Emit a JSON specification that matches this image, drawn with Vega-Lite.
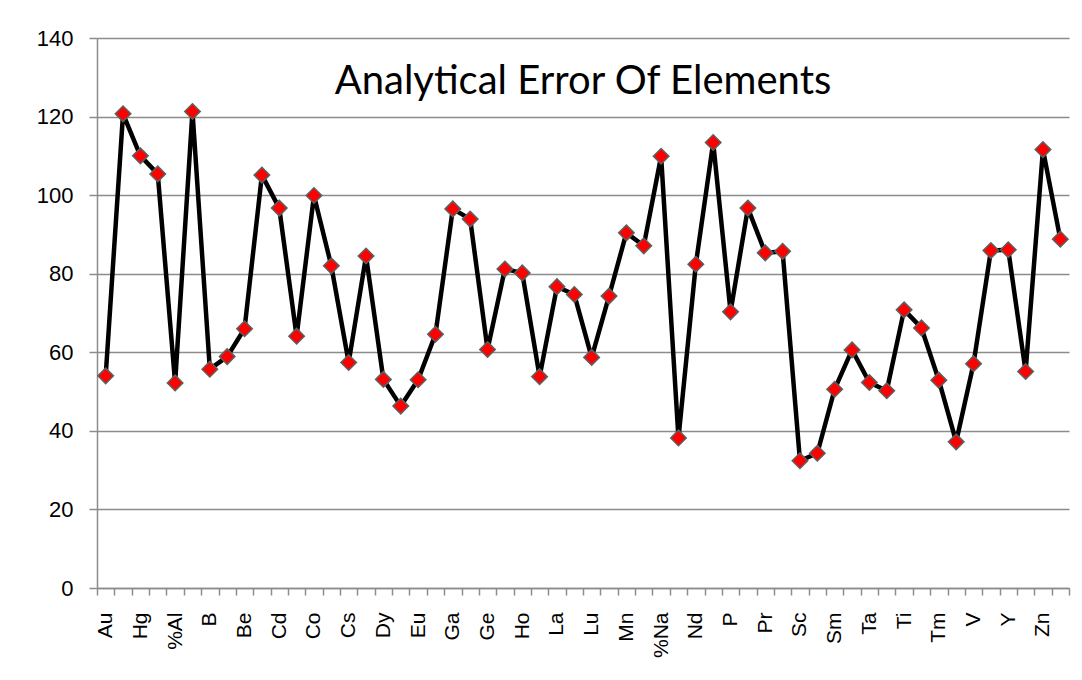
{
  "$schema": "https://vega.github.io/schema/vega-lite/v6.json",
  "autosize": {"type": "none"},
  "padding": {"left": 97, "top": 38, "right": 13, "bottom": 92},
  "width": 972,
  "height": 550,
  "background": "white",
  "config": {"view": {"stroke": null}},
  "title": {
    "text": "Analytical Error Of Elements",
    "font": "Lato",
    "fontSize": 40,
    "fontWeight": "normal",
    "color": "#000000",
    "anchor": "middle",
    "baseline": "alphabetic",
    "offset": -59,
    "dy": 48
  },
  "data": {
    "values": [
      {"element": "Au", "error": 54.0},
      {"element": "Ag", "error": 120.7},
      {"element": "Hg", "error": 110.0},
      {"element": "Pd", "error": 105.4},
      {"element": "%Al", "error": 52.2},
      {"element": "As", "error": 121.3},
      {"element": "B", "error": 55.7},
      {"element": "Ba", "error": 58.9},
      {"element": "Be", "error": 66.0},
      {"element": "Bi", "error": 105.1},
      {"element": "Cd", "error": 96.7},
      {"element": "Ce", "error": 64.1},
      {"element": "Co", "error": 99.9},
      {"element": "Cr", "error": 82.0},
      {"element": "Cs", "error": 57.4},
      {"element": "Cu", "error": 84.5},
      {"element": "Dy", "error": 53.1},
      {"element": "Er", "error": 46.3},
      {"element": "Eu", "error": 53.0},
      {"element": "%Fe", "error": 64.6},
      {"element": "Ga", "error": 96.5},
      {"element": "Gd", "error": 93.9},
      {"element": "Ge", "error": 60.7},
      {"element": "Hf", "error": 81.2},
      {"element": "Ho", "error": 80.2},
      {"element": "In", "error": 53.8},
      {"element": "La", "error": 76.7},
      {"element": "Li", "error": 74.7},
      {"element": "Lu", "error": 58.7},
      {"element": "%Mg", "error": 74.3},
      {"element": "Mn", "error": 90.4},
      {"element": "Mo", "error": 87.1},
      {"element": "%Na", "error": 109.9},
      {"element": "Nb", "error": 38.2},
      {"element": "Nd", "error": 82.4},
      {"element": "Ni", "error": 113.4},
      {"element": "P", "error": 70.3},
      {"element": "Pb", "error": 96.7},
      {"element": "Pr", "error": 85.3},
      {"element": "Rb", "error": 85.7},
      {"element": "Sc", "error": 32.4},
      {"element": "Se", "error": 34.3},
      {"element": "Sm", "error": 50.6},
      {"element": "Sn", "error": 60.6},
      {"element": "Ta", "error": 52.3},
      {"element": "Tb", "error": 50.2},
      {"element": "Ti", "error": 70.8},
      {"element": "Tl", "error": 66.2},
      {"element": "Tm", "error": 52.9},
      {"element": "U", "error": 37.2},
      {"element": "V", "error": 57.1},
      {"element": "W", "error": 85.9},
      {"element": "Y", "error": 86.1},
      {"element": "Yb", "error": 55.1},
      {"element": "Zn", "error": 111.6},
      {"element": "Zr", "error": 88.8}
    ]
  },
  "encoding": {
    "x": {
      "field": "element",
      "type": "nominal",
      "sort": null,
      "scale": {"type": "band", "paddingInner": 0, "paddingOuter": 0},
      "axis": {
        "title": null,
        "labelAngle": -90,
        "labelFont": "Liberation Sans",
        "labelFontSize": 21,
        "labelColor": "#000000",
        "labelPadding": 17,
        "labelOverlap": false,
        "labelExpr": "indexof(['Au','Hg','%Al','B','Be','Cd','Co','Cs','Dy','Eu','Ga','Ge','Ho','La','Lu','Mn','%Na','Nd','P','Pr','Sc','Sm','Ta','Ti','Tm','V','Y','Zn'], datum.value) >= 0 ? datum.value : ''",
        "tickBand": "extent",
        "tickSize": 7,
        "tickColor": "#8c8c8c",
        "tickWidth": 1.5,
        "domainColor": "#8c8c8c",
        "domainWidth": 1.5,
        "grid": false
      }
    },
    "y": {
      "field": "error",
      "type": "quantitative",
      "scale": {"domain": [0, 140], "nice": false, "zero": true},
      "axis": {
        "title": null,
        "values": [0, 20, 40, 60, 80, 100, 120, 140],
        "labelFont": "Liberation Sans",
        "labelFontSize": 22,
        "labelColor": "#000000",
        "labelPadding": 16,
        "tickSize": 8,
        "tickColor": "#8c8c8c",
        "tickWidth": 1.5,
        "domainColor": "#8c8c8c",
        "domainWidth": 1.5,
        "grid": true,
        "gridColor": "#8c8c8c",
        "gridWidth": 1.5
      }
    }
  },
  "layer": [
    {"mark": {"type": "line", "color": "#000000", "strokeWidth": 4.5, "strokeJoin": "round"}},
    {"mark": {"type": "point", "shape": "diamond", "filled": true, "fill": "#ff0000", "stroke": "#5f5f5f", "strokeWidth": 1.5, "size": 240, "opacity": 1}}
  ]
}
